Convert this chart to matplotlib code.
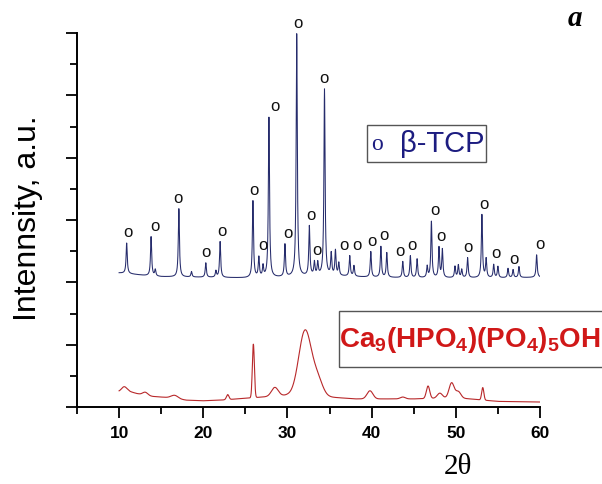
import numpy as np
import matplotlib
matplotlib.use("Agg")
import matplotlib.pyplot as plt
from matplotlib.patches import Rectangle
from matplotlib.ticker import MultipleLocator

plt.rcParams['font.family'] = ['Liberation Sans', 'DejaVu Sans']
plt.rcParams['mathtext.fontset'] = 'custom'
plt.rcParams['mathtext.bf'] = 'Liberation Sans:bold'
plt.rcParams['mathtext.rm'] = 'Liberation Sans'

# beta-TCP pattern: baseline anchors and peaks (2theta, top intensity)
tcp_base_x = [10, 11, 13, 15, 20, 25, 30, 33, 36, 40, 45, 50, 55, 60]
tcp_base_y = [2.15, 2.14, 2.11, 2.09, 2.08, 2.07, 2.08, 2.10, 2.10, 2.08, 2.07, 2.07, 2.07, 2.08]
tcp_pos = [10.9, 13.8, 14.3, 17.1, 18.6, 20.3, 21.5, 22.0, 25.9, 26.6, 27.1, 27.8,
           29.7, 31.1, 32.6, 33.2, 33.6, 34.4, 35.2, 35.7, 36.1, 37.4, 37.9,
           39.9, 41.1, 41.8, 43.7, 44.6, 45.4, 46.6, 47.1, 48.0, 48.4, 49.9,
           50.3, 50.7, 51.4, 53.1, 53.6, 54.5, 55.0, 56.2, 56.8, 57.5, 59.6]
tcp_top = [2.63, 2.73, 2.20, 3.18, 2.17, 2.31, 2.18, 2.65, 3.30, 2.39, 2.25, 4.64,
           2.60, 5.98, 2.89, 2.31, 2.30, 5.09, 2.45, 2.50, 2.30, 2.42, 2.26,
           2.49, 2.57, 2.47, 2.33, 2.42, 2.37, 2.25, 2.97, 2.55, 2.52, 2.25,
           2.27, 2.20, 2.39, 3.08, 2.37, 2.28, 2.25, 2.22, 2.20, 2.25, 2.44]
# "o" marks: the peak each one belongs to and where the sign sits
mark_peak = [10.9, 13.8, 17.1, 20.3, 22.0, 25.9, 26.6, 27.8, 29.7, 31.1, 32.6, 33.2, 34.4,
             37.4, 37.4, 39.9, 41.1, 43.7, 44.6, 47.1, 48.0, 51.4, 53.1, 54.5, 56.8, 59.6]
mark_x = [11.05, 14.25, 17.0, 20.3, 22.2, 26.0, 27.1, 28.5, 30.05, 31.25, 32.8, 33.5, 34.35,
          36.7, 38.25, 40.05, 41.45, 43.35, 44.8, 47.5, 48.25, 51.45, 53.35, 54.75, 56.9, 59.95]

# Ca9(HPO4)(PO4)5OH pattern
hap_base_x = [10, 11, 12, 13, 14, 16, 18, 20, 22, 24, 25, 27, 30, 35, 38, 42, 45, 50, 55, 60]
hap_base_y = [0.25, 0.26, 0.22, 0.19, 0.17, 0.15, 0.11, 0.10, 0.11, 0.13, 0.14, 0.16,
              0.19, 0.16, 0.13, 0.13, 0.13, 0.15, 0.09, 0.08]
hap_pos = [10.6, 13.1, 16.6, 22.9, 25.95, 28.5, 32.1, 33.6, 39.8,
           43.7, 46.7, 48.1, 49.5, 50.3, 53.2]
hap_amp = [0.07, 0.05, 0.05, 0.08, 0.86, 0.14, 1.05, 0.25, 0.13,
           0.03, 0.20, 0.08, 0.24, 0.10, 0.20]
hap_wid = [0.3, 0.3, 0.4, 0.15, 0.12, 0.4, 0.75, 0.6, 0.35,
           0.3, 0.2, 0.3, 0.3, 0.3, 0.13]

x = np.arange(10, 60.001, 0.02)

tcp = np.interp(x, tcp_base_x, tcp_base_y)
for c, t in zip(tcp_pos, tcp_top):
    h = t - np.interp(c, tcp_base_x, tcp_base_y)
    tcp += h / (1 + ((x - c) / 0.08) ** 2)

hap = np.interp(x, hap_base_x, hap_base_y)
for c, a, w in zip(hap_pos, hap_amp, hap_wid):
    hap += a * np.exp(-0.5 * ((x - c) / w) ** 2)

fig = plt.figure(figsize=(6.02, 4.84), dpi=100)
ax = fig.add_axes([77 / 602, 1 - 407 / 484, 463 / 602, 374 / 484])

ax.plot(x, tcp, color='#262c6c', lw=0.75)
ax.plot(x, hap, color='#b8282a', lw=0.8)

for p, mx in zip(mark_peak, mark_x):
    top = tcp[np.abs(x - p) < 0.1].max()
    ax.annotate('o', (mx, top), xytext=(0, 2), textcoords='offset points',
                ha='center', va='bottom', fontsize=12, color='#111111')

ax.set_xlim(5, 60)
ax.set_ylim(0, 6)
ax.spines['top'].set_visible(False)
ax.spines['right'].set_visible(False)
ax.spines['left'].set_linewidth(1.4)
ax.spines['bottom'].set_linewidth(1.4)
ax.xaxis.set_major_locator(MultipleLocator(10))
ax.xaxis.set_minor_locator(MultipleLocator(5))
ax.yaxis.set_major_locator(MultipleLocator(1))
ax.yaxis.set_minor_locator(MultipleLocator(0.5))
ax.tick_params(which='major', direction='out', length=8, width=1.3)
ax.tick_params(which='minor', direction='out', length=5, width=1.3)
ax.set_yticklabels([])
ax.set_xticks([10, 20, 30, 40, 50, 60])
for lab in ax.get_xticklabels():
    lab.set_fontweight('bold')
    lab.set_fontsize(12.5)
ax.tick_params(axis='x', pad=6)

fig.text(28 / 602, 1 - 218 / 484, 'Intennsity, a.u.', rotation=90, ha='center', va='center',
         fontsize=23)
fig.text(458 / 602, 1 - 467 / 484, '2θ', ha='center', va='center', fontsize=21,
         family=['Liberation Serif', 'DejaVu Serif'])
fig.text(575 / 602, 1 - 18 / 484, 'a', ha='center', va='center', fontsize=21,
         family=['Liberation Serif', 'DejaVu Serif'], style='italic', fontweight='bold')

# legend boxes
fig.patches.append(Rectangle((367 / 602, 1 - 162 / 484), 119 / 602, 37 / 484,
                             transform=fig.transFigure, fill=False, ec='#555555', lw=1))
fig.text(377 / 602, 1 - 145 / 484, 'o', ha='center', va='center', fontsize=17,
         color='#1c1c80', family=['Liberation Serif', 'DejaVu Serif'])
fig.text(400 / 602, 1 - 144 / 484, 'β-TCP', ha='left', va='center', fontsize=21,
         color='#1c1c80')

fig.patches.append(Rectangle((339 / 602, 1 - 367 / 484), 280 / 602, 56 / 484,
                             transform=fig.transFigure, fill=False, ec='#555555', lw=1,
                             clip_on=False))
fig.text(339 / 602, 1 - 340 / 484, r'$\mathbf{Ca_9(HPO_4)(PO_4)_5OH}$', ha='left',
         va='center', fontsize=20, color='#d01818')

fig.savefig('out.png', dpi=100)
